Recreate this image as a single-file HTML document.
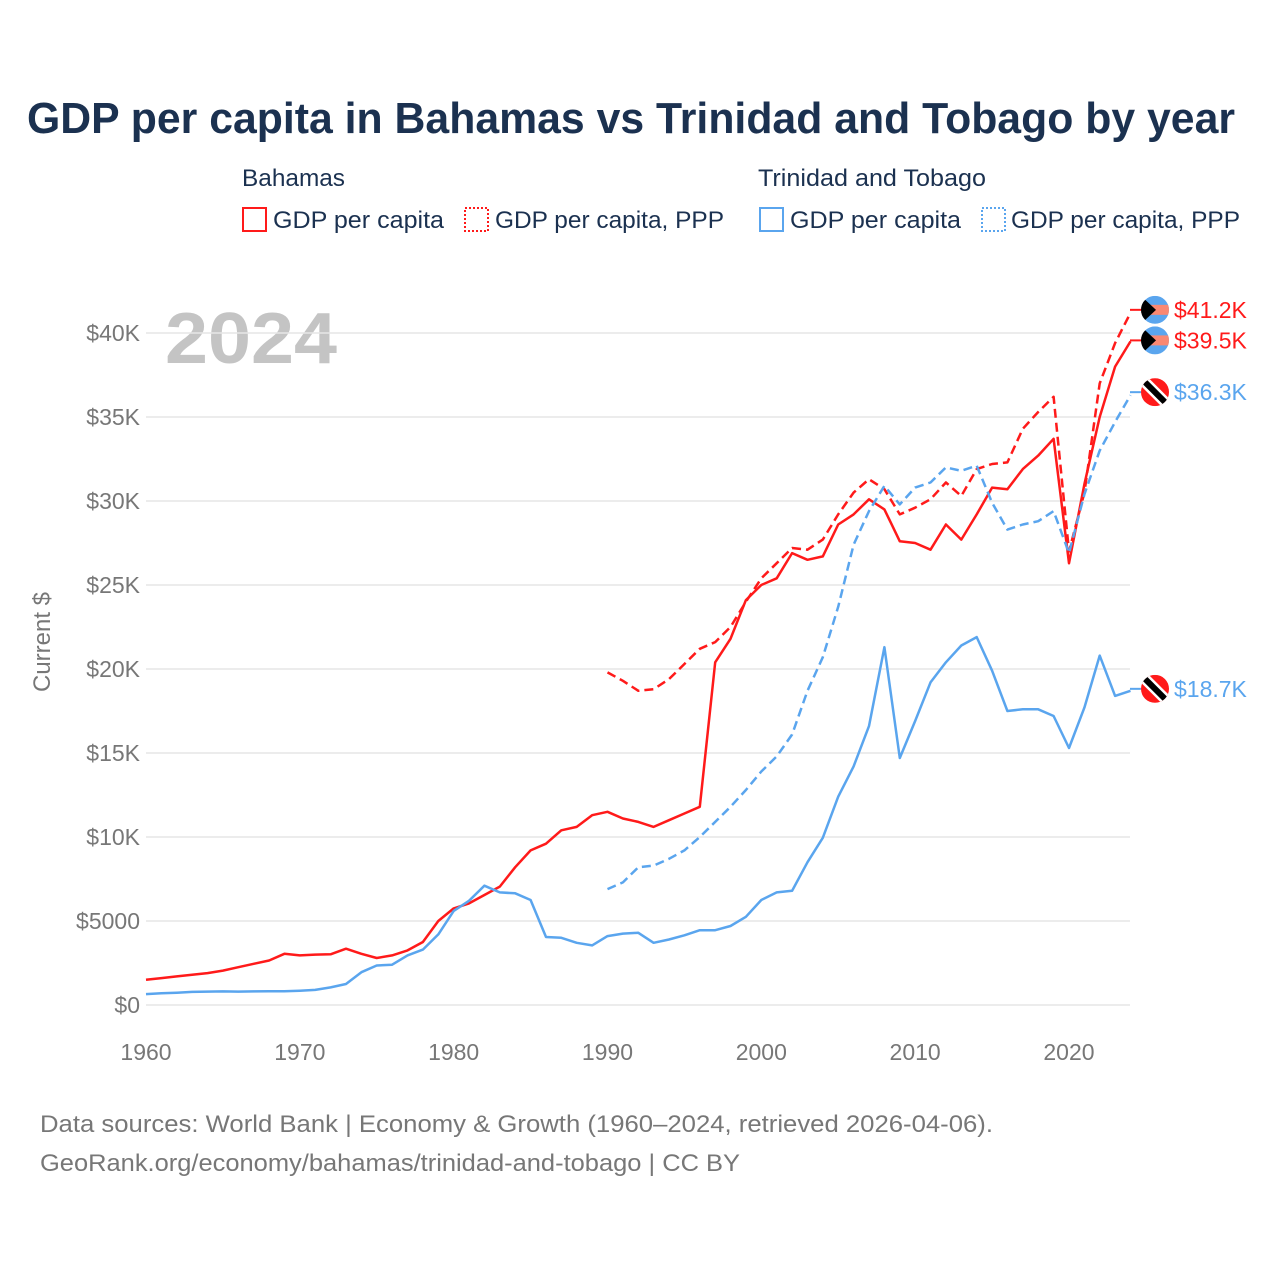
<!DOCTYPE html>
<html><head><meta charset="utf-8">
<style>
html,body{margin:0;padding:0;background:#fff;}
body{width:1280px;height:1280px;overflow:hidden;font-family:"Liberation Sans",sans-serif;}
</style></head>
<body>
<svg id="chart" width="1280" height="1280" xmlns="http://www.w3.org/2000/svg" font-family="Liberation Sans, sans-serif">
<text x="27" y="133" textLength="1208" lengthAdjust="spacingAndGlyphs" font-size="44" font-weight="bold" fill="#1b3150">GDP per capita in Bahamas vs Trinidad and Tobago by year</text>
<g font-size="24" fill="#1b3150">
<text x="242" y="186" textLength="103" lengthAdjust="spacingAndGlyphs">Bahamas</text>
<text x="758" y="186" textLength="228" lengthAdjust="spacingAndGlyphs">Trinidad and Tobago</text>
<g><rect x="243" y="208" width="23" height="23" fill="none" stroke="#ff1a1a" stroke-width="2"/><text x="273" y="228" textLength="171" lengthAdjust="spacingAndGlyphs">GDP per capita</text></g>
<g><rect x="465" y="208" width="23" height="23" fill="none" stroke="#ff1a1a" stroke-width="2" stroke-dasharray="2,2"/><text x="495" y="228" textLength="229" lengthAdjust="spacingAndGlyphs">GDP per capita, PPP</text></g>
<g><rect x="760" y="208" width="23" height="23" fill="none" stroke="#5aa5ee" stroke-width="2"/><text x="790" y="228" textLength="171" lengthAdjust="spacingAndGlyphs">GDP per capita</text></g>
<g><rect x="982" y="208" width="23" height="23" fill="none" stroke="#5aa5ee" stroke-width="2" stroke-dasharray="2,2"/><text x="1011" y="228" textLength="229" lengthAdjust="spacingAndGlyphs">GDP per capita, PPP</text></g>
</g>
<text x="165" y="363" font-size="72" font-weight="bold" fill="#c4c4c4" textLength="172" lengthAdjust="spacingAndGlyphs">2024</text>
<text transform="translate(50,642) rotate(-90)" text-anchor="middle" font-size="24" fill="#777">Current $</text>
<g id="grid"></g><g id="series"></g><g id="ends"></g>
<g font-size="24" fill="#777">
<text x="40" y="1132" textLength="953" lengthAdjust="spacingAndGlyphs">Data sources: World Bank | Economy &amp; Growth (1960–2024, retrieved 2026-04-06).</text>
<text x="40" y="1171" textLength="700" lengthAdjust="spacingAndGlyphs">GeoRank.org/economy/bahamas/trinidad-and-tobago | CC BY</text>
</g>
</svg>
<script>
const yearsFull = Array.from({length:65},(_,i)=>1960+i);
const yearsPPP = Array.from({length:35},(_,i)=>1990+i);
const bahamasGdp = [1500,1600,1700,1800,1900,2050,2250,2450,2650,3050,2950,3000,3020,3350,3050,2800,2950,3250,3750,5000,5750,6050,6550,7050,8200,9200,9600,10400,10600,11300,11500,11100,10900,10600,11000,11400,11800,20400,21800,24100,25000,25400,26900,26500,26700,28600,29200,30100,29500,27600,27500,27100,28600,27700,29200,30800,30700,31900,32700,33700,26300,31000,35000,38000,39500];
const bahamasPpp = [19800,19300,18700,18800,19400,20300,21200,21600,22500,24000,25400,26300,27200,27100,27700,29200,30500,31300,30700,29200,29600,30100,31100,30300,31900,32200,32300,34300,35300,36200,27000,30500,37000,39400,41200];
const trinidadGdp = [650,700,730,780,800,810,800,810,820,820,850,900,1050,1250,1950,2350,2400,2950,3300,4200,5600,6200,7100,6700,6650,6250,4050,4000,3700,3550,4100,4250,4300,3700,3900,4150,4450,4450,4700,5250,6250,6700,6800,8500,9950,12400,14200,16600,21300,14700,16900,19200,20400,21400,21900,19900,17500,17600,17600,17200,15300,17700,20800,18400,18700];
const trinidadPpp = [6900,7300,8200,8300,8700,9200,10000,10900,11800,12800,13900,14800,16100,18700,20700,23700,27400,29400,30900,29800,30800,31100,32000,31800,32100,29900,28300,28600,28800,29400,26900,30400,33000,34700,36300];
const yTicks = [0,5000,10000,15000,20000,25000,30000,35000,40000];
const yTickLabels = ["$0","$5000","$10K","$15K","$20K","$25K","$30K","$35K","$40K"];
const xTicks = [1960,1970,1980,1990,2000,2010,2020];

const NS="http://www.w3.org/2000/svg";
const xS = y => 146 + (y-1960)*(1130.5-146)/64;
const yS = v => 1005 - v*(672/40000);
function mk(tag, attrs, parent){const e=document.createElementNS(NS,tag);for(const k in attrs)e.setAttribute(k,attrs[k]);parent.appendChild(e);return e;}
const grid=document.getElementById('grid');
yTicks.forEach((t,i)=>{
  const l=mk('line',{x1:146,x2:1130,y1:yS(t),y2:yS(t),stroke:'#e6e6e6','stroke-width':1.5},grid);
  
  
  const tx=mk('text',{x:140,y:yS(t)+8,'text-anchor':'end','font-size':23,fill:'#777'},grid);
  tx.textContent=yTickLabels[i];
  
  
});
xTicks.forEach(t=>{
  const tx=mk('text',{x:xS(t),y:1060,'text-anchor':'middle','font-size':23,fill:'#777'},grid);
  tx.textContent=t;
  
  
});
const ser=document.getElementById('series');
function line(xs,vals,color,dash,name){
  const d=vals.map((v,i)=>(i?'L':'M')+xS(xs[i]).toFixed(1)+','+yS(v).toFixed(1)).join('');
  const p=mk('path',{d:d,fill:'none',stroke:color,'stroke-width':2.5,'stroke-linejoin':'round'},ser);
  if(dash)p.setAttribute('stroke-dasharray','9,5');
  
  
}
const RED='#ff1a1a', BLUE='#5aa5ee';
line(yearsFull,bahamasGdp,RED,false,'bahamas-gdp-line');
line(yearsPPP,bahamasPpp,RED,true,'bahamas-ppp-line');
line(yearsFull,trinidadGdp,BLUE,false,'trinidad-gdp-line');
line(yearsPPP,trinidadPpp,BLUE,true,'trinidad-ppp-line');

const ends=document.getElementById('ends');
let cid=0;
function flag(cy,type,val,color,name){
  const cx=1155;
  const g=mk('g',{},ends);
  
  
  mk('line',{x1:1130,x2:1141,y1:cy,y2:cy,stroke:color,'stroke-width':2},g);
  const id='c'+(cid++);
  const cp=mk('clipPath',{id:id},g);mk('circle',{cx:cx,cy:cy,r:14},cp);
  const f=mk('g',{'clip-path':'url(#'+id+')'},g);
  if(type==='bs'){
    mk('rect',{x:cx-14,y:cy-14,width:28,height:28,fill:'#5aa5ee'},f);
    mk('rect',{x:cx-14,y:cy-5,width:28,height:10,fill:'#fa8872'},f);
    mk('polygon',{points:`${cx-14},${cy-14} ${cx+1},${cy} ${cx-14},${cy+14}`,fill:'#000'},f);
  }else{
    mk('rect',{x:cx-14,y:cy-14,width:28,height:28,fill:'#ff1a1a'},f);
    mk('line',{x1:cx-14,y1:cy-14,x2:cx+14,y2:cy+14,stroke:'#fff','stroke-width':11},f);
    mk('line',{x1:cx-14,y1:cy-14,x2:cx+14,y2:cy+14,stroke:'#000','stroke-width':6},f);
  }
  const t=mk('text',{x:1174,y:cy+8,'font-size':23,fill:color},g);
  t.textContent=val;
}
flag(yS(bahamasPpp[bahamasPpp.length-1])-3,'bs','$41.2K',RED,'end-label-bahamas-ppp');
flag(yS(bahamasGdp[bahamasGdp.length-1])-1,'bs','$39.5K',RED,'end-label-bahamas-gdp');
flag(yS(trinidadPpp[trinidadPpp.length-1])-3,'tt','$36.3K',BLUE,'end-label-trinidad-ppp');
flag(yS(trinidadGdp[trinidadGdp.length-1])-2,'tt','$18.7K',BLUE,'end-label-trinidad-gdp');
</script>
</body></html>
